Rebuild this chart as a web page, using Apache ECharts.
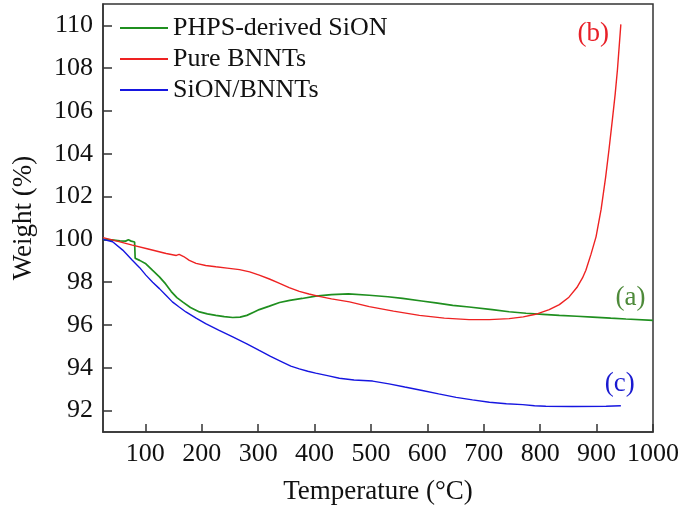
<!DOCTYPE html>
<html>
<head>
<meta charset="utf-8">
<script src="https://cdn.jsdelivr.net/npm/echarts@6/dist/echarts.min.js"></script>
<style>html,body{margin:0;padding:0;background:#fff}#c{width:685px;height:513px}</style>
</head>
<body>
<div id="c"></div>
<script>
const seriesNames = ['PHPS-derived SiON', 'Pure BNNTs', 'SiON/BNNTs'];
const xTicks = [100, 200, 300, 400, 500, 600, 700, 800, 900, 1000];
const yTicks = [92, 94, 96, 98, 100, 102, 104, 106, 108, 110];

const sionX = [25,40,55,65,70,75,81,82,90,101,113,125,136,146,156,166,180,196,210,225,240,255,268,280,292,302,320,338,356,378,402,430,460,497,530,556,590,615,645,674,715,745,775,805,834,865,893,925,952,1000];
const sionY = [100.00,99.98,99.93,99.92,99.98,99.92,99.88,99.12,99.02,98.86,98.55,98.25,97.92,97.56,97.28,97.08,96.82,96.61,96.52,96.45,96.39,96.35,96.37,96.45,96.60,96.72,96.88,97.05,97.15,97.24,97.35,97.42,97.45,97.39,97.32,97.24,97.12,97.03,96.92,96.84,96.72,96.62,96.55,96.50,96.45,96.41,96.37,96.32,96.28,96.22];

const bnntX = [25,50,77,105,137,155,160,163,168,178,190,207,225,245,267,285,302,320,335,355,373,390,408,430,462,497,540,586,630,674,710,745,770,792,816,834,851,865,875,881,890,899,908,916,922,928,933,937,943];
const bnntY = [100.08,99.92,99.73,99.55,99.34,99.25,99.30,99.22,99.20,99.02,98.88,98.78,98.72,98.66,98.59,98.48,98.33,98.15,97.98,97.75,97.57,97.45,97.34,97.22,97.08,96.86,96.65,96.45,96.32,96.25,96.25,96.30,96.38,96.50,96.72,96.95,97.30,97.75,98.20,98.56,99.30,100.12,101.40,102.90,104.20,105.60,106.80,107.94,110.05];

const compX = [25,42,60,77,90,101,113,125,137,148,160,172,190,207,230,255,280,302,322,343,358,373,388,402,425,444,470,503,532,560,591,620,651,680,710,740,769,790,810,857,917,943];
const compY = [100.00,99.89,99.50,99.03,98.68,98.33,98.00,97.70,97.38,97.08,96.84,96.61,96.32,96.06,95.76,95.44,95.12,94.81,94.53,94.27,94.08,93.95,93.84,93.75,93.62,93.51,93.43,93.38,93.25,93.10,92.94,92.78,92.62,92.50,92.39,92.32,92.28,92.23,92.20,92.19,92.20,92.23];

const tagText = ['(a)', '(b)', '(c)'];
const tagX = [960, 894, 941];
const tagY = [97.25, 109.62, 93.27];
const tagColors = ['#4e8a3a', '#e82028', '#1a1ad0'];

const zip = (xs, ys) => xs.map((x, i) => [x, ys[i]]);
const font = '"Liberation Serif", "Times New Roman", serif';
const colors = ['#1f8f1f', '#ee2222', '#1616e0'];
const widths = [1.7, 1.4, 1.4];
const dataSets = [zip(sionX, sionY), zip(bnntX, bnntY), zip(compX, compY)];

const chart = echarts.init(document.getElementById('c'), null, {renderer: 'canvas'});
chart.setOption({
  animation: false,
  backgroundColor: '#fff',
  grid: {left: 103, right: 32, top: 4, bottom: 81, show: true, borderColor: '#333', borderWidth: 1.5, backgroundColor: 'transparent'},
  legend: {
    orient: 'vertical', left: 115, top: 10, itemWidth: 48, itemHeight: 2, itemGap: 5,
    icon: 'rect',
    data: seriesNames,
    textStyle: {fontFamily: font, fontSize: 26, color: '#111'}
  },
  xAxis: {
    type: 'value', min: 25, max: 1000,
    name: 'Temperature (°C)', nameLocation: 'middle', nameGap: 46,
    nameTextStyle: {fontFamily: font, fontSize: 27, color: '#111'},
    axisLine: {show: true, lineStyle: {color: '#333', width: 1.5}},
    axisTick: {show: true, inside: true, length: 8, customValues: xTicks, lineStyle: {color: '#333', width: 1.5}},
    axisLabel: {customValues: xTicks, formatter: v => String(v), fontFamily: font, fontSize: 26, color: '#111', margin: 9},
    splitLine: {show: false}
  },
  yAxis: {
    type: 'value', min: 91, max: 111,
    name: 'Weight (%)', nameLocation: 'middle', nameGap: 66, nameRotate: 90,
    nameTextStyle: {fontFamily: font, fontSize: 27, color: '#111'},
    axisLine: {show: true, lineStyle: {color: '#333', width: 1.5}},
    axisTick: {show: true, inside: true, length: 9, customValues: yTicks, lineStyle: {color: '#333', width: 1.5}},
    axisLabel: {customValues: yTicks, formatter: v => String(v), fontFamily: font, fontSize: 26, color: '#111', margin: 10},
    splitLine: {show: false}
  },
  series: seriesNames.map((name, i) => ({
    name: name, type: 'line', data: dataSets[i], showSymbol: false, symbol: 'none',
    lineStyle: {color: colors[i], width: widths[i]}, itemStyle: {color: colors[i]},
    markPoint: {
      symbol: 'circle', symbolSize: 1, silent: true,
      itemStyle: {color: 'rgba(0,0,0,0)'},
      label: {show: true, formatter: tagText[i], fontFamily: font, fontSize: 27, color: tagColors[i], position: 'inside'},
      data: [{coord: [tagX[i], tagY[i]]}]
    }
  }))
});
</script>
</body>
</html>
